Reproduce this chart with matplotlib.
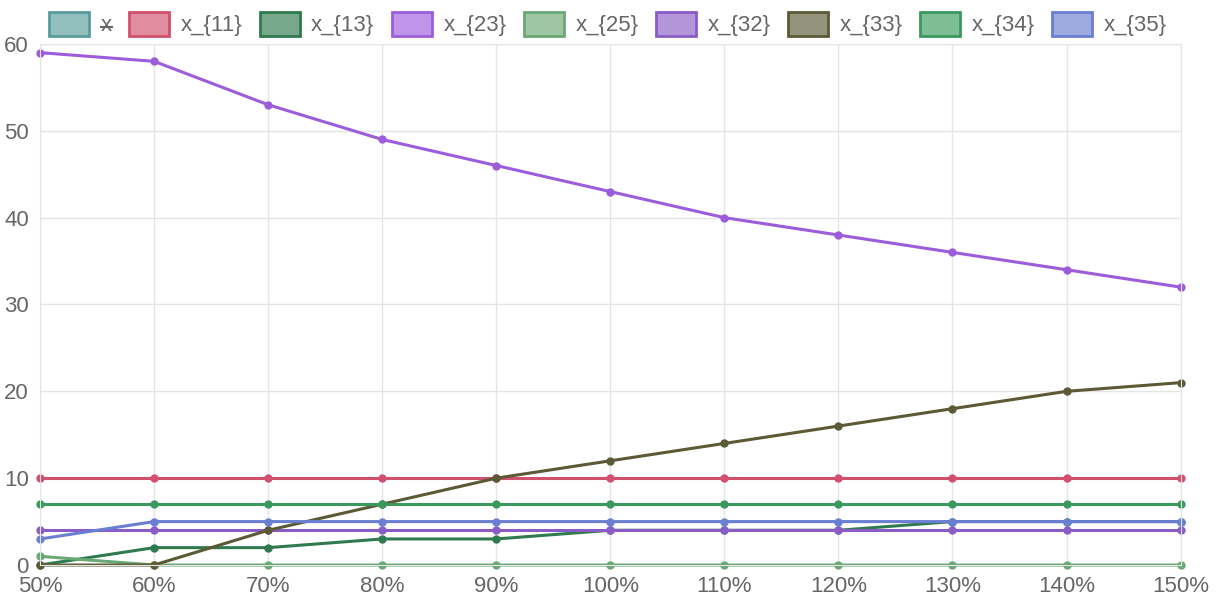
import matplotlib.pyplot as plt
from matplotlib.patches import Patch
from matplotlib.lines import Line2D
from matplotlib.colors import to_rgba

plt.rcParams['font.family'] = ['Liberation Sans', 'DejaVu Sans']

# data
categories = ["50%", "60%", "70%", "80%", "90%", "100%", "110%", "120%", "130%", "140%", "150%"]
labels = ["x", "x_{11}", "x_{13}", "x_{23}", "x_{25}", "x_{32}", "x_{33}", "x_{34}", "x_{35}"]
x_11 = [10, 10, 10, 10, 10, 10, 10, 10, 10, 10, 10]
x_13 = [0, 2, 2, 3, 3, 4, 4, 4, 5, 5, 5]
x_23 = [59, 58, 53, 49, 46, 43, 40, 38, 36, 34, 32]
x_25 = [1, 0, 0, 0, 0, 0, 0, 0, 0, 0, 0]
x_32 = [4, 4, 4, 4, 4, 4, 4, 4, 4, 4, 4]
x_33 = [0, 0, 4, 7, 10, 12, 14, 16, 18, 20, 21]
x_34 = [7, 7, 7, 7, 7, 7, 7, 7, 7, 7, 7]
x_35 = [3, 5, 5, 5, 5, 5, 5, 5, 5, 5, 5]

colors = ["#5a9c9c", "#d0506e", "#2f7a4e", "#9c5ddc", "#6aa875",
          "#8a5cc6", "#5b5a35", "#3a9a5e", "#6a7ed2"]

# "x" dataset is hidden in the reference (struck through in legend)
series = [None, x_11, x_13, x_23, x_25, x_32, x_33, x_34, x_35]

fig = plt.figure(figsize=(12.16, 6.08), dpi=100)
ax = fig.add_axes([0.0329, 0.0707, 0.938, 0.857])

xs = list(range(len(categories)))
for vals, c in zip(series, colors):
    if vals is None:
        continue
    ax.plot(xs, vals, color=c, lw=2.2, marker="o", ms=5,
            markerfacecolor=c, markeredgecolor=c, clip_on=False)

ax.set_xlim(0, len(categories) - 1)
ax.set_ylim(0, 60)
ax.set_xticks(xs)
ax.set_xticklabels(categories)
ax.set_yticks(range(0, 61, 10))
ax.grid(True, color="#e5e5e5", lw=1)
ax.set_axisbelow(True)
for s in ax.spines.values():
    s.set_color("#e5e5e5")
ax.tick_params(length=0, labelsize=16, colors="#666666")
ax.tick_params(axis="x", pad=8)
ax.tick_params(axis="y", pad=8)

handles = [Patch(facecolor=to_rgba(c, 0.65), edgecolor=c, lw=2) for c in colors]
leg = fig.legend(handles, labels, loc="upper center", bbox_to_anchor=(0.5, 1.0),
                 ncol=9, frameon=False, fontsize=16, handlelength=1.8, handleheight=1.25,
                 columnspacing=0.8, handletextpad=0.5, borderaxespad=0.15)
for t in leg.get_texts():
    t.set_color("#666666")

# strike through the hidden "x" entry
fig.canvas.draw()
bb = leg.get_texts()[0].get_window_extent().transformed(fig.transFigure.inverted())
ymid = bb.y0 + bb.height * 0.45
fig.add_artist(Line2D([bb.x0, bb.x1], [ymid, ymid], color="#666666", lw=1.5,
                      transform=fig.transFigure))

fig.savefig("out.png", dpi=100)
